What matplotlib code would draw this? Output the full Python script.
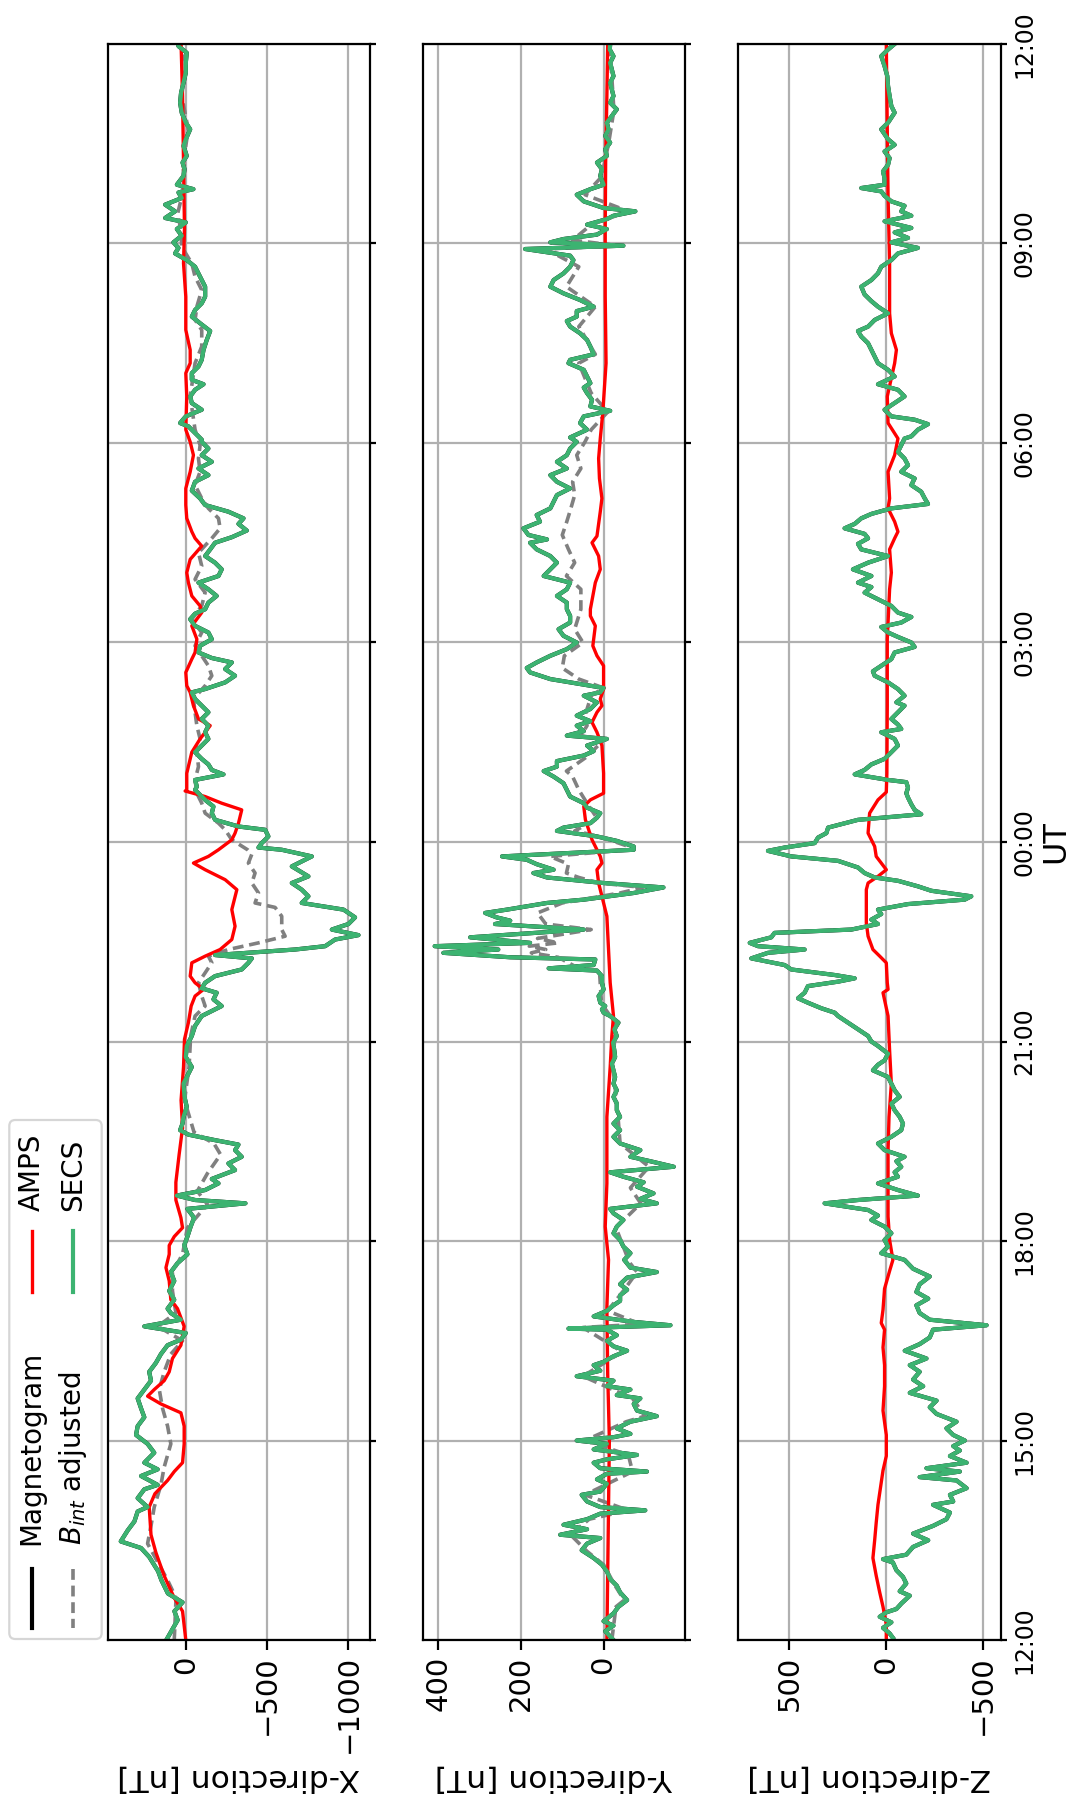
import numpy as np
import matplotlib
matplotlib.use('Agg')
import matplotlib.pyplot as plt
from matplotlib.lines import Line2D
from matplotlib.patches import FancyBboxPatch

# time axis: minutes after 12:00 UT, one day long
time_ticks = [0, 3, 6, 9, 12, 15, 18, 21, 24]
time_labels = ['12:00', '15:00', '18:00', '21:00', '00:00', '03:00', '06:00', '09:00', '12:00']

# ---------------- X component ----------------
t_mag_x = [0, 18, 26, 34, 42, 54, 62, 75, 83, 89, 99, 107, 116, 120, 128, 136, 140, 148, 154, 160,
           169, 177, 185, 193, 201, 209, 218, 226, 234, 242, 250, 258, 266, 271, 277, 283, 289, 295, 299, 307,
           315, 324, 332, 340, 348, 356, 364, 373, 381, 389, 394,
           397, 401, 406, 412, 416, 424, 430, 436, 442, 447, 451, 456, 460, 466, 472, 481, 490, 502, 508, 517,
           526, 536, 545, 554, 563, 572, 578, 584, 588, 593, 599, 605, 611, 615, 618, 623, 626, 632, 636, 641,
           646, 652, 659, 665, 671, 677, 683, 689, 698, 707, 713,
           715, 719, 725, 731, 734, 740, 746, 752, 758, 764, 767, 770, 776, 781, 785, 790, 795, 801, 807, 813,
           819, 825, 831, 837, 843, 849, 855, 858, 864, 870, 876, 882, 886, 891, 897, 903, 909, 915, 921, 926,
           930, 936, 942, 948, 954, 960, 966, 972, 978, 984, 990, 995, 1001, 1007, 1012, 1018, 1024, 1030, 1037, 1045,
           1051, 1057, 1063, 1069, 1075, 1081,
           1083, 1089, 1095, 1098, 1104, 1110, 1116, 1122, 1128, 1133, 1137, 1143, 1149, 1155, 1164, 1173, 1181, 1188, 1194, 1200,
           1206, 1212, 1221, 1230, 1239, 1245, 1251, 1256, 1261, 1267, 1273, 1279, 1283, 1289, 1295, 1301, 1306, 1309, 1313, 1321,
           1327, 1333, 1339, 1348, 1354, 1363, 1369, 1378, 1387, 1396, 1405, 1414, 1423, 1432, 1438, 1440]
mag_x = [120, 50, 70, 20, 110, 150, 170, 225, 275, 400, 357, 316, 296, 235, 296, 255, 173, 275, 173, 255,
         194, 235, 306, 296, 255, 275, 296, 255, 214, 225, 184, 153, 112, 30, 0, 255, 30, 92, 112, 71,
         102, 71, 92, 51, -10, 10, -10, -30, -51, -10, -367,
         -57, 55, -119, -201, -160, -303, -262, -344, -303, -324, -180, -16, 35, 20, 14, -6, 8, 14, -6, -37,
         0, -6, -37, -57, -98, -221, -170, -190, -98, -119, -180, -344, -385, -406, -180, -672, -857, -918, -1062, -898,
         -1000, -1041, -970, -713, -754, -713, -652, -754, -652, -775, -590,
         -447, -467, -508, -488, -324, -180, -160, -170, -119, -78, -57, -68, -57, -232, -160, -139, -98, -57, -98, -139,
         -119, -139, -98, -139, -98, -57, -37, -119, -242, -303, -242, -283, -160, -78, -88, -160, -139, -57, -27, -57,
         -119, -139, -190, -139, -78, -201, -221, -180, -119, -150, -180, -283, -375, -324, -355, -262, -119, -88, -37, -57,
         -139, -78, -160, -98, -139, -98,
         -98, -57, -16, 35, 0, -98, -37, -27, -57, -109, -37, -37, -78, -98, -109, -129, -150, -88, -37, -57,
         -98, -119, -119, -88, -57, -6, 66, 45, 76, 25, 55, 0, 127, 66, 127, 25, 45, -47, 55, 14,
         8, 20, -6, 14, 0, -27, 0, 25, 35, 29, 14, 0, 0, -6, 45, 49]

t_amps_x = [0, 26, 38, 58, 79, 95, 120, 132, 144, 152, 160, 177, 193, 205, 213, 220, 226, 234, 242, 254,
            266, 283, 299, 307, 324, 336, 348, 356, 364, 372, 381, 397, 413, 438, 462, 487, 517, 542, 557, 572,
            581, 587, 593, 599, 611, 617, 623, 632, 644, 659, 677, 686, 695, 701, 707, 713, 722, 728, 737, 749,
            755, 761, 766, 767, 782, 801, 813, 825, 831, 843, 855, 861, 873, 885, 891, 903, 915, 927, 933, 942,
            954, 963, 975, 987, 994, 1000, 1012, 1024, 1039, 1054, 1069, 1081, 1092, 1122, 1143, 1152, 1164, 1182, 1212, 1242,
            1273, 1333, 1393, 1440]
amps_x = [0, 20, 71, 133, 184, 214, 225, 190, 112, 71, 20, 10, 10, 30, 153, 235, 194, 133, 102, 82,
          30, 10, 51, 92, 102, 122, 102, 102, 71, 20, 30, 61, 61, 41, 20, 29, 14, 8, -16, -33,
          -57, -109, -57, -27, -37, -119, -211, -283, -303, -283, -314, -242, -119, -47, -139, -201, -283, -303, -324, -344,
          -221, -119, 4, -6, -6, -37, -88, -150, -78, -47, -27, -6, 0, -37, -57, -68, -37, -98, -88, -37,
          -16, -6, -27, -98, -57, -37, -6, 0, 0, -27, -47, -27, 0, -6, 0, -27, -27, 0, 0, 14,
          8, 14, 20, 29]

t_bint_x = [0, 38, 54, 87, 103, 120, 140, 156, 177, 193, 209, 226, 242, 258, 270, 283, 295, 315, 332, 348,
            372, 393, 405, 421, 438, 448, 458, 487, 517, 545, 563, 572, 581, 593, 602, 611, 617, 623, 629, 635,
            641, 653, 661, 665, 674, 683, 692, 701, 709, 713, 722, 731, 737, 746, 755, 764, 776, 788, 801, 813,
            825, 837, 849, 861, 870, 879, 888, 897, 909, 921, 933, 945, 957, 969, 981, 994, 1003, 1012, 1021, 1030,
            1042, 1054, 1066, 1078, 1092, 1122, 1152, 1167, 1182, 1191, 1203, 1218, 1230, 1242, 1257, 1272, 1287, 1302, 1317, 1333,
            1363, 1393, 1423, 1440]
bint_x = [71, 60, 112, 235, 214, 194, 153, 133, 92, 112, 143, 163, 133, 92, 20, 173, 61, 82, 82, 20,
          -10, -133, -71, -133, -214, -173, -51, 8, -20, -30, -57, -119, -98, -78, -119, -160, -139, -262, -447, -611,
          -590, -590, -549, -426, -447, -406, -426, -385, -406, -380, -283, -242, -201, -119, -98, -68, -57, -78, -68, -88,
          -68, -57, -47, -119, -160, -139, -98, -57, -98, -37, -98, -119, -57, -98, -78, -160, -211, -201, -139, -98,
          -57, -88, -78, -88, -57, -27, -57, -98, -98, -57, -68, -98, -57, -37, 25, 30, 50, 25, 15, 15,
          -15, 25, 0, 40]

# ---------------- Y component ----------------
t_mag_y = [0, 8, 13, 17, 24, 30, 36, 43, 49, 55, 62, 68, 74, 81, 87, 92, 95, 100, 104, 109,
           114, 117, 120, 125, 131, 134, 141, 145, 150, 152, 155, 160, 163, 167, 172, 177, 180, 183, 186, 191,
           197, 202, 207, 213, 218, 221, 226, 229, 234, 238, 243, 248, 251, 256, 261, 265, 270, 275, 280, 281,
           284, 287, 292, 297, 302, 306, 311, 316, 321, 327, 332, 336, 343,
           349, 355, 361, 367, 373, 379, 385, 389, 394, 398, 403, 409, 413, 418, 422, 427, 432, 436, 442, 448,
           454, 460, 466, 472, 478, 484, 490, 496, 502, 508, 514, 520, 526, 532, 539, 545, 551, 557, 563, 566,
           569, 572, 575, 581, 587, 593, 599, 604, 606, 609, 614, 616, 620, 623, 626, 629, 634, 641, 646, 649,
           652, 656, 659, 665, 668, 674, 679, 683, 688, 692, 695, 700, 704, 707, 713,
           716, 721, 725, 730, 733, 737, 742, 746, 751, 755, 761, 767, 773, 779, 784, 788, 793, 798, 802, 807,
           813, 816, 820, 825, 829, 834, 840, 846, 852, 855, 859, 862, 867, 873, 877, 882, 888, 894, 900, 906,
           912, 918, 924, 930, 936, 942, 948, 954, 960, 966, 972, 978, 984, 990, 993, 997, 1003, 1009, 1015, 1021,
           1027, 1033, 1039, 1045, 1051, 1057, 1063, 1069, 1075, 1081,
           1085, 1092, 1098, 1104, 1109, 1113, 1119, 1125, 1130, 1134, 1140, 1146, 1152, 1155, 1160, 1167, 1173, 1179, 1185, 1190,
           1194, 1199, 1203, 1209, 1215, 1221, 1227, 1233, 1239, 1245, 1249, 1255, 1258, 1261, 1264, 1268, 1273, 1277, 1282, 1285,
           1289, 1292, 1298, 1304, 1309, 1313, 1321, 1327, 1333, 1339, 1345, 1351, 1357, 1363, 1369, 1375, 1381, 1387, 1393, 1399,
           1405, 1411, 1417, 1423, 1429, 1435, 1440]
mag_y = [-24, -4, -24, 0, -24, -36, -57, -40, -32, -16, -8, 4, 24, 53, 40, 8, 105, 40, 97, 40,
         8, -101, 8, 40, 53, 8, -8, 16, -8, -105, 8, 24, -8, -81, 24, -8, 65, -24, -65, -32,
         -65, -129, -81, -73, -89, -32, -65, -8, -24, 65, 8, 24, 0, -24, -57, -24, -8, -32, -8, 85,
         -162, -73, 24, -8, -24, -40, -40, -57, -40, -57, -129, -65, -50,
         -65, -48, -40, -24, -32, -48, -24, -16, -129, -89, -121, -81, -97, -48, -16, -170, -113, -65, -89, -40,
         -24, -40, -24, -40, -32, -32, -24, -32, -24, -28, -24, -20, -28, -26, -23, -32, -26, -36, -16, 0,
         4, -4, 8, 12, 0, 4, 4, 16, 133, 24, 20, 226, 388, 255, 409, 178, 323, 48, 263, 226,
         259, 287, 234, 137, 48, -73, -145, 0, 137, 170, 121, 162, 186, 246, -73,
         -73, -32, 16, 113, 97, 32, 16, 8, 40, 48, 81, 89, 97, 121, 145, 113, 113, 48, 24, 40,
         -8, 89, 48, 65, 32, 65, 32, 16, 48, 8, 0, 48, 129, 178, 186, 162, 129, 89, 65, 97,
         109, 81, 81, 89, 89, 113, 89, 81, 145, 129, 113, 129, 162, 178, 137, 182, 194, 154, 162, 129,
         121, 113, 81, 113, 129, 89, 113, 89, 81, 65,
         81, 40, 57, 48, -16, 32, 28, 40, 48, 32, 40, 48, 85, 81, 24, 32, 40, 57, 81, 89,
         65, 65, 24, 57, 97, 129, 121, 97, 81, 73, 81, 190, -48, 129, 97, 16, -8, 40, -8, -24,
         -77, 0, 48, 65, 32, 0, 8, 4, 16, -8, -4, -16, -4, -12, -8, -20, -32, -16, -24, -20,
         -16, -24, -20, -16, -24, -15, -16]

t_amps_y = [0, 60, 120, 180, 240, 300, 343, 373, 412, 472, 517, 545, 563, 593, 623, 653, 683, 695, 701, 707,
            713, 722, 740, 752, 758, 764, 782, 807, 819, 828, 837, 843, 849, 858, 879, 888, 897, 903, 915, 924,
            930, 942, 954, 966, 978, 990, 996, 1018, 1030, 1048, 1066, 1084, 1107, 1152, 1212, 1273, 1333, 1393, 1440]
amps_y = [-8, -10, -12, -14, -10, -8, -12, -4, -8, -8, -16, -20, -24, -16, -12, -8, 12, 16, 4, 8,
          16, 28, 44, 48, 32, 0, 0, 4, 16, 28, 16, 4, 8, 0, 0, 16, 26, 24, 20, 32,
          32, 26, 20, 8, 12, 28, 16, 8, 4, 10, 12, 8, 2, -6, -4, -4, -5, -8, -10]

t_bint_y = [0, 30, 36, 49, 68, 80, 95, 109, 117, 131, 152, 167, 180, 197, 202, 218, 238, 260, 282, 285,
            297, 316, 332, 342, 348, 372, 394, 408, 427, 448, 472, 520, 556, 574, 604, 606, 616, 620, 623, 626,
            629, 633, 641, 646, 651, 656, 665, 674, 679, 683, 688, 692, 700, 707, 713, 716, 725, 730, 741, 755,
            767, 779, 784, 797, 812, 816, 825, 834, 852, 859, 867, 877, 888, 900, 912, 930, 948, 960, 972, 984,
            997, 1008, 1020, 1033, 1045, 1057, 1069, 1081, 1092, 1108, 1125, 1152, 1160, 1185, 1203, 1221, 1239, 1255, 1258, 1263,
            1277, 1289, 1304, 1320, 1350, 1380, 1410, 1440]
bint_y = [-20, -30, -50, -28, 0, 40, 80, 35, -60, 45, -70, -60, 45, -55, -100, -70, 50, -45, 50, -89,
          -10, -50, -81, -60, -55, -30, -90, -65, -110, -40, -35, -22, -30, 5, 10, 60, 110, 175, 140, 180,
          110, 160, 30, 140, 150, 160, 100, -40, -95, 10, 60, 90, 85, 130, -60, -60, 10, 70, 15, 40,
          60, 75, 90, 40, 0, 55, 40, 45, 30, 0, 60, 100, 95, 50, 70, 55, 55, 90, 70, 85,
          100, 90, 80, 70, 75, 55, 65, 45, 30, -10, 30, 60, 20, 60, 20, 90, 60, 140, -35, 75,
          30, -60, 45, 5, -12, -25, -20, -15]

# ---------------- Z component ----------------
t_mag_z = [2, 6, 11, 16, 21, 25, 28, 33, 40, 44, 51, 57, 63, 70, 73, 77, 84, 90, 96, 103,
           109, 115, 122, 125, 131, 137, 144, 147, 152, 155, 160, 166, 171, 175, 180, 185, 191, 197, 204, 210,
           216, 223, 229, 235, 242, 248, 254, 261, 267, 273, 280, 284, 289, 295, 302, 308, 314, 321, 328, 335,
           343, 349, 355, 361, 367, 373, 379, 383, 388, 394, 397, 401, 406, 412, 418, 422, 427, 432, 436, 442,
           448, 454, 460, 466, 472, 478, 484, 490, 496, 502, 508, 514, 519, 523, 529, 536, 540, 545, 551, 557,
           563, 566, 570, 575, 579, 584, 590, 594, 597, 600, 605, 609, 615, 620, 623, 626, 629, 634, 638, 641,
           646, 650, 655, 659, 664, 668, 671, 676, 680, 685, 688, 692, 697, 703, 707, 712,
           715, 719, 724, 728, 733, 740, 745, 749, 754, 760, 764, 769, 774, 776, 781, 785, 790, 795, 801, 807,
           813, 819, 822, 826, 831, 837, 843, 846, 852, 858, 864, 870, 874, 879, 885, 891, 896, 900, 905, 909,
           914, 918, 923, 927, 933, 939, 945, 950, 954, 960, 966, 972, 978, 984, 989, 994, 998, 1003, 1007, 1012,
           1016, 1021, 1025, 1030, 1036, 1042, 1048, 1054, 1060, 1066, 1072, 1078, 1084,
           1086, 1092, 1097, 1101, 1104, 1110, 1116, 1122, 1128, 1133, 1140, 1146, 1152, 1158, 1164, 1170, 1176, 1181, 1185, 1191,
           1197, 1203, 1208, 1214, 1221, 1227, 1233, 1239, 1245, 1251, 1256, 1261, 1265, 1270, 1274, 1280, 1285, 1289, 1294, 1298,
           1303, 1307, 1310, 1313, 1319, 1325, 1331, 1337, 1343, 1349, 1354, 1363, 1369, 1378, 1384, 1393, 1402, 1411, 1420, 1429,
           1435, 1440]
mag_z = [-34, -17, 17, -26, 34, 0, -52, -78, -121, -69, -103, -86, -52, -34, 17, -103, -138, -216, -138, -241,
         -310, -328, -241, -345, -328, -414, -362, -172, -379, -207, -414, -328, -379, -345, -405, -345, -310, -362, -259, -224,
         -259, -121, -190, -138, -172, -121, -207, -95, -172, -224, -241, -517, -224, -172, -155, -216, -155, -172, -224, -138,
         -94, 26, -9, 9, -26, 9, 77, 43, 94, 318, 146, -163, -60, 43, -60, -43, -77, -52, -94, 9,
         43, -26, -77, -86, -69, -43, -26, -69, -43, -26, -9, 69, 43, 9, -9, 43, 77, 94, 146, 198,
         249, 266, 335, 404, 455, 421, 404, 249, 163, 266, 490, 524, 696, 610, 421, 661, 704, 593, 576, 180,
         43, 77, 26, 43, -112, -404, -438, -232, -163, -60, 60, 112, 146, 249, 490, 610,
         524, 369, 352, 309, 300, 146, -180, -146, -129, -112, -103, -112, -103, -9, 163, 112, 77, 9, -26, -60,
         -43, 26, -77, -60, -26, -60, -94, -52, -94, -60, -9, 60, 69, 26, -26, -43, -146, -129, -60, -9,
         26, -77, -129, -60, -26, 43, 112, 77, 146, 77, 172, 94, -9, 129, 146, 94, 112, 215, 163, 129,
         77, -26, -215, -198, -180, -129, -146, -77, -112, -94, -60, -77, -94,
         -129, -163, -215, -146, -26, 9, -43, -94, -60, 43, -43, -9, 43, 60, 77, 94, 129, 146, 94, 60,
         -9, 43, 77, 112, 129, 77, 43, 26, -26, -60, -163, -26, -112, -43, -129, 9, -129, -77, -94, -26,
         9, 26, 129, 9, 9, 17, -9, -17, 9, -43, -9, 26, -9, -43, -26, -17, -9, -5, 9, 26,
         -9, -43]

t_amps_z = [0, 14, 30, 43, 58, 74, 90, 106, 122, 153, 166, 185, 207, 229, 248, 264, 280, 286, 298, 317,
            333, 343, 361, 382, 412, 442, 472, 502, 532, 563, 584, 587, 593, 611, 617, 623, 635, 647, 659, 677,
            683, 689, 695, 701, 707, 716, 728, 746, 758, 765, 782, 843, 903, 948, 963, 984, 994, 1000, 1009, 1021,
            1030, 1054, 1069, 1084, 1098, 1122, 1152, 1164, 1179, 1197, 1242, 1303, 1363, 1440]
amps_z = [0, 0, 17, 34, 52, 69, 60, 52, 43, 17, 0, 0, 17, 9, 9, 17, 9, 26, 17, 9,
          -17, -34, -17, -9, -9, -9, -14, -26, -17, -9, 17, -9, -5, 0, 34, 69, 94, 103, 103, 103,
          94, 43, 0, 26, 52, 60, 94, 86, 43, 0, -3, -5, -5, -17, -26, -17, -43, -60, -43, -9,
          -17, -9, -43, -60, -9, -5, -43, -52, -26, -17, -17, -9, -5, 0]

# B_int adjusted and SECS lie on the magnetogram trace in Z
t_bint_z = t_mag_z
bint_z = mag_z
# SECS follows the magnetogram almost exactly in all three components
secs_x, secs_y, secs_z = mag_x, mag_y, mag_z

panels = [
    ("X-direction [nT]", (480, -1135), [0, -500, -1000],
     (t_mag_x, mag_x), (t_bint_x, bint_x), (t_amps_x, amps_x), (t_mag_x, secs_x)),
    ("Y-direction [nT]", (438, -198), [400, 200, 0],
     (t_mag_y, mag_y), (t_bint_y, bint_y), (t_amps_y, amps_y), (t_mag_y, secs_y)),
    ("Z-direction [nT]", (766, -591), [500, 0, -500],
     (t_mag_z, mag_z), (t_bint_z, bint_z), (t_amps_z, amps_z), (t_mag_z, secs_z)),
]

# figure is drawn upright (portrait), time runs upwards
fig = plt.figure(figsize=(5.355, 9.045), dpi=200)
lefts = [0.1006, 0.3947, 0.6888]
widths = [0.2452, 0.2452, 0.2458]
label_x = [0.2232, 0.5173, 0.8118]

green = '#3CB371'
mag_style = dict(color='black', lw=1.5)
bint_style = dict(color='gray', ls='--', lw=1.3, dashes=(3.0, 1.6))
amps_style = dict(color='red', lw=1.2)
secs_style = dict(color=green, lw=1.5)

for i, (name, lim, ticks, mag, bint, amps, secs) in enumerate(panels):
    ax = fig.add_axes([lefts[i], 0.0934, widths[i], 0.8823])
    ax.plot(mag[1], np.array(mag[0]) / 60, **mag_style)
    ax.plot(bint[1], np.array(bint[0]) / 60, **bint_style)
    ax.plot(amps[1], np.array(amps[0]) / 60, **amps_style)
    ax.plot(secs[1], np.array(secs[0]) / 60, **secs_style)
    ax.set_xlim(lim)
    ax.set_ylim(0, 24)
    ax.set_xticks(ticks)
    ax.set_yticks(time_ticks)
    ax.set_yticklabels(time_labels)
    ax.yaxis.tick_right()
    ax.grid(True)
    ax.tick_params(axis='x', labelsize=10.5, labelrotation=90, length=3.5, pad=2)
    ax.tick_params(axis='y', labelsize=8.5, labelrotation=90, length=2, pad=2)
    for lab in ax.get_yticklabels():
        lab.set_va('center')
    if i < 2:
        ax.tick_params(axis='y', labelright=False)
    fig.text(label_x[i], 0.0171, name, rotation=180, ha='center', va='center', fontsize=11.3)

fig.text(0.986, 0.5346, 'UT', rotation=90, ha='center', va='center', fontsize=11.5)

# legend, drawn by hand so it can sit sideways like the rest of the figure
def pix(x, y):
    return x / 200, (1809 - y) / 200

tr = fig.dpi_scale_trans
x0, y0 = pix(9.3, 1639)
box = FancyBboxPatch((x0, y0), 92.4 / 200, 519 / 200, boxstyle='round,pad=0,rounding_size=0.03',
                     transform=tr, facecolor='white', edgecolor='0.8', lw=0.8, alpha=0.8)
fig.patches.append(box)

legend_items = [
    ("Magnetogram", 31.7, 1569, 1628, 1545, mag_style),
    ("$B_{int}$ adjusted", 73.3, 1569, 1628, 1545, bint_style),
    ("AMPS", 31.7, 1231, 1292, 1211, amps_style),
    ("SECS", 73.3, 1231, 1292, 1211, secs_style),
]
for text, x, ya, yb, yt, style in legend_items:
    xa, ya_in = pix(x, ya)
    _, yb_in = pix(x, yb)
    fig.add_artist(Line2D([xa, xa], [ya_in, yb_in], transform=tr, **style))
    _, yt_in = pix(x, yt)
    fig.text(xa, yt_in, text, rotation=90, ha='center', va='bottom', fontsize=10, transform=tr)

fig.savefig('out.png', dpi=200)
